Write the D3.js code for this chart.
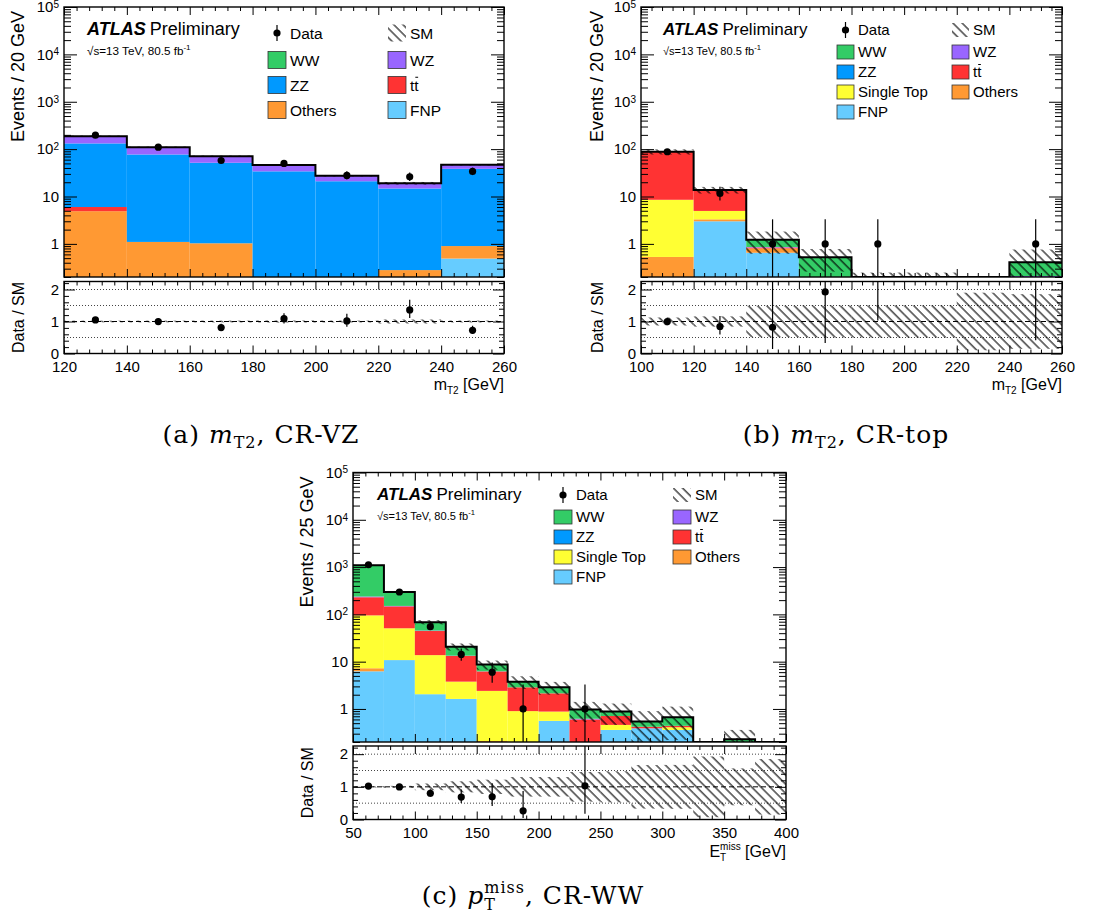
<!DOCTYPE html>
<html><head><meta charset="utf-8">
<script src="https://cdn.jsdelivr.net/npm/d3@7"></script>
<style>
body{margin:0;background:#fff}
svg text{font-family:"Liberation Sans",Arial,sans-serif;white-space:pre}
</style></head><body>
<svg id="chart" width="1116" height="923"></svg>
<script>
// stack order, bottom -> top
var stackNames = ['FNP','Others','Single Top','ttbar','ZZ','WZ','WW'];
var stackColors = ['#66ccff','#ff9933','#ffff33','#ff3333','#0099ff','#9966ff','#33cc66'];

// (a) m_T2, CR-VZ
var aEdges = [120,140,160,180,200,220,240,260];
var aFNP = [0,0,0,0,0,0,0.49];
var aOthers = [4.9,1.1,1.03,0,0,0.28,0.41];
var aSingleTop = [0,0,0,0,0,0,0];
var aTtbar = [1.1,0,0,0,0,0,0];
var aZZ = [126,76,50.5,34,21,14.5,37.5];
var aWZ = [56,33,19.5,12,6.3,4.3,8.3];
var aWW = [0,0,0,0,0,0,0];
var aData = [197,110,57.6,50,27.8,26,33.8];
var aDataErrLo = [13.5,10,7.2,6.8,5,4.8,5.5];
var aDataErrHi = [14.5,11,8.3,7.8,6.2,6.1,6.8];
var aSMErr = [5,3,2,1.5,0.8,1.2,1.4];
var aLegend = [['Data','SM'],['WW','WZ'],['ZZ','ttbar'],['Others','FNP']];

// (b) m_T2, CR-top
var bEdges = [100,120,140,160,180,200,220,240,260];
var bFNP = [0,3.0,0.65,0,0,0,0,0];
var bOthers = [0.53,0.3,0.15,0,0,0,0,0];
var bSingleTop = [8.0,1.66,0,0,0,0,0,0];
var bTtbar = [79.5,8.8,0.04,0,0,0,0,0];
var bZZ = [0,0,0,0,0,0,0,0];
var bWZ = [0,0,0.02,0,0,0,0,0.21];
var bWW = [0,0,0.36,0.52,0.165,0.165,0.1,0.2];
var bData = [88,11.6,1,1,1,0,0,1];
var bDataErrLo = [9.4,3.4,0.83,0.83,0.83,0,0,0.83];
var bDataErrHi = [10.4,4.5,2.3,2.3,2.3,0,0,2.3];
var bSMErr = [11,2.2,0.6,0.26,0.083,0.083,0.09,0.35];
var bLegend = [['Data','SM'],['WW','WZ'],['ZZ','ttbar'],['Single Top','Others'],['FNP']];

// (c) p_T^miss, CR-WW
var cEdges = [50,75,100,125,150,175,200,225,250,275,300,325,350,375,400];
var cFNP = [6.25,10.8,2.05,1.63,0,0,0.56,0,0.36,0.39,0.36,0,0,0];
var cOthers = [1.0,0,0,0,0.21,0,0,0,0,0,0,0,0,0];
var cSingleTop = [88,40,11.7,2.15,2.2,0.9,0.32,0,0.1,0,0.05,0,0,0];
var cTtbar = [135,97,30.7,9.4,3.8,1.97,1.26,0.6,0.25,0.03,0.03,0,0,0];
var cZZ = [0,0,0,0,0,0,0,0,0,0,0,0,0,0];
var cWZ = [8,3,1,0.2,0.05,0,0,0.02,0,0,0,0,0,0];
var cWW = [856,147,23,7.3,2.4,0.91,0.73,0.35,0.17,0.12,0.23,0.1,0.23,0.08];
var cData = [1120,297,55,14.2,6,1,0,1,0,0,0,0,0,0];
var cDataErrLo = [33,17,7.4,3.7,2.4,0.83,0,0.83,0,0,0,0,0,0];
var cDataErrHi = [34,18,8.4,4.8,3.6,2.3,0,2.3,0,0,0,0,0,0];
var cSMErr = [22,9,7,3.5,1.9,1.13,0.86,0.44,0.42,0.36,0.45,0.093,0.13,0.068];
var cLegend = bLegend;

var svg = d3.select('#chart');
var defs = svg.append('defs');
defs.append('pattern').attr('id','hatch').attr('patternUnits','userSpaceOnUse')
  .attr('width',6.5).attr('height',6.5).attr('patternTransform','rotate(-45)')
  .append('line').attr('x1',1).attr('y1',0).attr('x2',1).attr('y2',6.5)
  .attr('stroke','#000').attr('stroke-width',1.1);

// draws text pieces side by side (sub/superscripts, stacked indices, overbars)
function rich(parent, x, y, pieces, anchor, base){
  var g = parent.append('g');
  var cx = 0;
  function put(p){
    return g.append('text').attr('x',cx).attr('y',p.dy||0)
      .attr('font-size',p.size||base.size)
      .style('font-family',base.family||null)
      .style('letter-spacing',base.ls||null)
      .attr('font-style',p.italic?'italic':null)
      .text(p.t);
  }
  pieces.forEach(function(p){
    if (p.stack){
      var w = 0;
      p.stack.forEach(function(s){
        w = Math.max(w, put(s).node().getComputedTextLength());
      });
      cx += w;
    } else {
      var t = put(p);
      var w = t.node().getComputedTextLength();
      if (p.over){
        var s = p.size||base.size;
        g.append('line').attr('x1',cx+1).attr('x2',cx+w-0.5)
          .attr('y1',-s*0.86).attr('y2',-s*0.86).attr('stroke','#000').attr('stroke-width',1);
      }
      cx += w;
    }
  });
  var off = anchor==='end' ? -cx : (anchor==='middle' ? -cx/2 : 0);
  g.attr('transform','translate('+(x+off)+','+y+')');
  return g;
}

function legendLabel(name){
  if (name==='ttbar') return [{t:'t'},{t:'t',over:true}];
  return [{t:name}];
}

function drawPanel(p){
  var g = svg.append('g');
  var nb = p.edges.length-1;
  var x = d3.scaleLinear().domain([p.edges[0],p.edges[nb]]).range([p.left,p.right]);
  var y = d3.scaleLog().domain([0.2,1e5]).range([p.mainBottom,p.top]).clamp(true);
  var yr = d3.scaleLinear().domain([0,2.25]).range([p.ratioBottom,p.ratioTop]);
  var yc = function(v){ return y(Math.max(v,1e-3)); };

  defs.append('clipPath').attr('id','clipM'+p.id).append('rect')
    .attr('x',p.left).attr('y',p.top).attr('width',p.right-p.left).attr('height',p.mainBottom-p.top);
  defs.append('clipPath').attr('id','clipR'+p.id).append('rect')
    .attr('x',p.left).attr('y',p.ratioTop).attr('width',p.right-p.left).attr('height',p.ratioBottom-p.ratioTop);

  var bins = d3.range(nb);
  var total = bins.map(function(i){ return d3.sum(stackNames, function(n){ return p.comps[n][i]; }); });

  // stacked backgrounds
  var main = g.append('g').attr('clip-path','url(#clipM'+p.id+')');
  var base = bins.map(function(){ return 0; });
  stackNames.forEach(function(n,k){
    var segs = bins.filter(function(i){ return p.comps[n][i]>0; }).map(function(i){
      var s = {i:i, lo:base[i], hi:base[i]+p.comps[n][i]};
      base[i] = s.hi;
      return s;
    });
    main.selectAll(null).data(segs).enter().append('rect')
      .attr('x',function(d){ return x(p.edges[d.i]); })
      .attr('width',function(d){ return x(p.edges[d.i+1])-x(p.edges[d.i]); })
      .attr('y',function(d){ return yc(d.hi); })
      .attr('height',function(d){ return Math.max(0,yc(d.lo)-yc(d.hi)); })
      .attr('fill',stackColors[k]);
  });

  // SM uncertainty
  main.selectAll(null).data(bins).enter().append('rect')
    .attr('x',function(i){ return x(p.edges[i]); })
    .attr('width',function(i){ return x(p.edges[i+1])-x(p.edges[i]); })
    .attr('y',function(i){ return yc(total[i]+p.smErr[i]); })
    .attr('height',function(i){ return Math.max(0,yc(total[i]-p.smErr[i])-yc(total[i]+p.smErr[i])); })
    .attr('fill','url(#hatch)');

  // SM outline
  var pts = [];
  bins.forEach(function(i){ pts.push([x(p.edges[i]),yc(total[i])]); pts.push([x(p.edges[i+1]),yc(total[i])]); });
  main.append('path').attr('d',d3.line()(pts)).attr('fill','none').attr('stroke','#000').attr('stroke-width',2);

  // data
  var dBins = bins.filter(function(i){ return p.data[i]>0; });
  var xc = function(i){ return x((p.edges[i]+p.edges[i+1])/2); };
  main.selectAll(null).data(dBins).enter().append('line')
    .attr('x1',xc).attr('x2',xc)
    .attr('y1',function(i){ return yc(p.data[i]-p.errLo[i]); })
    .attr('y2',function(i){ return yc(p.data[i]+p.errHi[i]); })
    .attr('stroke','#000').attr('stroke-width',1.2);
  main.selectAll(null).data(dBins).enter().append('circle')
    .attr('cx',xc).attr('cy',function(i){ return yc(p.data[i]); }).attr('r',3.6).attr('fill','#000');

  // ratio panel
  var rat = g.append('g').attr('clip-path','url(#clipR'+p.id+')');
  [0.5,1.5,2].forEach(function(v){
    rat.append('line').attr('x1',p.left).attr('x2',p.right).attr('y1',yr(v)).attr('y2',yr(v))
      .attr('stroke','#444').attr('stroke-width',1).attr('stroke-dasharray','1,2');
  });
  var rBins = bins.filter(function(i){ return total[i]>0; });
  rat.selectAll(null).data(rBins).enter().append('rect')
    .attr('x',function(i){ return x(p.edges[i]); })
    .attr('width',function(i){ return x(p.edges[i+1])-x(p.edges[i]); })
    .attr('y',function(i){ return yr(1+p.smErr[i]/total[i]); })
    .attr('height',function(i){ return yr(1-p.smErr[i]/total[i])-yr(1+p.smErr[i]/total[i]); })
    .attr('fill','url(#hatch)');
  rat.append('line').attr('x1',p.left).attr('x2',p.right).attr('y1',yr(1)).attr('y2',yr(1))
    .attr('stroke','#000').attr('stroke-width',1).attr('stroke-dasharray','5,3');
  var drBins = dBins.filter(function(i){ return total[i]>0; });
  rat.selectAll(null).data(drBins).enter().append('line')
    .attr('x1',xc).attr('x2',xc)
    .attr('y1',function(i){ return yr((p.data[i]-p.errLo[i])/total[i]); })
    .attr('y2',function(i){ return yr((p.data[i]+p.errHi[i])/total[i]); })
    .attr('stroke','#000').attr('stroke-width',1.2);
  rat.selectAll(null).data(drBins.filter(function(i){ return p.data[i]/total[i]<2.25; })).enter().append('circle')
    .attr('cx',xc).attr('cy',function(i){ return yr(p.data[i]/total[i]); }).attr('r',3.6).attr('fill','#000');

  // frames
  [[p.top,p.mainBottom],[p.ratioTop,p.ratioBottom]].forEach(function(f){
    g.append('rect').attr('x',p.left).attr('y',f[0]).attr('width',p.right-p.left).attr('height',f[1]-f[0])
      .attr('fill','none').attr('stroke','#000').attr('stroke-width',1.4);
  });

  // ticks
  var x0 = p.edges[0], x1 = p.edges[nb];
  var xMaj = d3.range(x0, x1+0.001, p.xMajor);
  var xMin = d3.range(x0, x1+0.001, p.xMinor).filter(function(v){ return xMaj.indexOf(v)<0; });
  var logMaj = [1,10,100,1e3,1e4,1e5];
  var logMin = [];
  [0.1,1,10,100,1e3,1e4].forEach(function(d){ for (var m=2;m<10;m++){ var v=m*d; if (v>=0.2 && v<1e5) logMin.push(v); } });
  var rMaj = [0,1,2];
  var rMin = [0.2,0.4,0.6,0.8,1.2,1.4,1.6,1.8,2.2];

  function tk(axis, vals, size, tr){
    g.append('g').attr('transform',tr).call(axis.tickValues(vals).tickSize(size).tickFormat(''))
      .call(function(s){ s.select('.domain').remove(); s.selectAll('line').attr('stroke','#000'); });
  }
  [[p.top,p.mainBottom],[p.ratioTop,p.ratioBottom]].forEach(function(f){
    tk(d3.axisTop(x), xMaj, -8, 'translate(0,'+f[0]+')');
    tk(d3.axisTop(x), xMin, -4, 'translate(0,'+f[0]+')');
    tk(d3.axisBottom(x), xMaj, -8, 'translate(0,'+f[1]+')');
    tk(d3.axisBottom(x), xMin, -4, 'translate(0,'+f[1]+')');
  });
  [[p.left,d3.axisLeft],[p.right,d3.axisRight]].forEach(function(s){
    tk(s[1](y), logMaj, -13, 'translate('+s[0]+',0)');
    tk(s[1](y), logMin, -7, 'translate('+s[0]+',0)');
    tk(s[1](yr), rMaj, -11, 'translate('+s[0]+',0)');
    tk(s[1](yr), rMin, -5, 'translate('+s[0]+',0)');
  });

  // tick labels
  var yl = g.append('g').attr('transform','translate('+p.left+',0)')
    .call(d3.axisLeft(y).tickValues(logMaj).tickSize(0).tickPadding(5).tickFormat(function(d){ return d<100 ? String(d) : ''; }));
  yl.select('.domain').remove();
  yl.selectAll('text').attr('font-size',15).attr('fill','#000').style('font-family','Liberation Sans')
    .each(function(d){
      if (d<100){ return; }
      var t = d3.select(this);
      t.append('tspan').text('10');
      t.append('tspan').attr('dy','-0.45em').attr('font-size',10).text(Math.round(Math.log10(d)));
    });
  var rl = g.append('g').attr('transform','translate('+p.left+',0)')
    .call(d3.axisLeft(yr).tickValues(rMaj).tickSize(0).tickPadding(5).tickFormat(d3.format('d')));
  rl.select('.domain').remove();
  rl.selectAll('text').attr('font-size',15).attr('fill','#000').style('font-family','Liberation Sans');
  var xl = g.append('g').attr('transform','translate(0,'+p.ratioBottom+')')
    .call(d3.axisBottom(x).tickValues(xMaj).tickSize(0).tickPadding(8).tickFormat(d3.format('d')));
  xl.select('.domain').remove();
  xl.selectAll('text').attr('font-size',15).attr('fill','#000').style('font-family','Liberation Sans');

  // axis titles
  g.append('text').attr('transform','translate('+p.yTitleX+','+(p.top+4)+') rotate(-90)')
    .attr('text-anchor','end').attr('font-size',18).text(p.yTitle);
  g.append('text').attr('transform','translate('+p.yTitleX+','+((p.ratioTop+p.ratioBottom)/2)+') rotate(-90)')
    .attr('text-anchor','middle').attr('font-size',16).text('Data / SM');
  rich(g, p.right, p.ratioBottom+p.xTitleDy, p.xTitle, 'end', {size:16});

  // ATLAS label
  var at = g.append('text').attr('x',p.atlasX).attr('y',p.atlasY).attr('font-size',p.atlasFs);
  at.append('tspan').attr('font-weight','bold').attr('font-style','italic').text('ATLAS');
  at.append('tspan').attr('dx',4).text('Preliminary');
  var lu = g.append('text').attr('x',p.atlasX).attr('y',p.atlasY+20).attr('font-size',p.atlasFs*0.65);
  lu.append('tspan').text('\u221As=13 TeV, 80.5 fb');
  lu.append('tspan').attr('dy',-5).attr('font-size',p.atlasFs*0.45).text('-1');

  // legend
  var L = p.leg;
  p.legend.forEach(function(row,r){
    row.forEach(function(name,c){
      var bx = c===0 ? L.x1 : L.x2;
      var cy = L.y0 + r*L.dy + (r===0 ? -2 : 0);
      if (name==='Data'){
        g.append('line').attr('x1',bx+L.bw/2).attr('x2',bx+L.bw/2).attr('y1',cy-8).attr('y2',cy+8).attr('stroke','#000').attr('stroke-width',1.2);
        g.append('circle').attr('cx',bx+L.bw/2).attr('cy',cy).attr('r',3.6).attr('fill','#000');
      } else if (name==='SM'){
        g.append('rect').attr('x',bx).attr('y',cy-L.bh/2).attr('width',L.bw).attr('height',L.bh).attr('fill','url(#hatch)');
      } else {
        g.append('rect').attr('x',bx).attr('y',cy-L.bh/2).attr('width',L.bw).attr('height',L.bh)
          .attr('fill',stackColors[stackNames.indexOf(name)]).attr('stroke','#333').attr('stroke-width',0.8);
      }
      rich(g, bx+L.tx, cy+L.fs*0.36, legendLabel(name), 'start', {size:L.fs});
    });
  });

  // caption
  rich(g, p.capX, p.capY, p.caption, 'middle', {size:25, family:'DejaVu Serif', ls:'1px'});
}

var panels = [
  {id:'a', edges:aEdges,
   comps:{'FNP':aFNP,'Others':aOthers,'Single Top':aSingleTop,'ttbar':aTtbar,'ZZ':aZZ,'WZ':aWZ,'WW':aWW},
   data:aData, errLo:aDataErrLo, errHi:aDataErrHi, smErr:aSMErr,
   left:64, right:504, top:7, mainBottom:277, ratioTop:281.5, ratioBottom:353.5,
   xMajor:20, xMinor:4, yTitle:'Events / 20 GeV', yTitleX:24,
   atlasX:87, atlasY:35, atlasFs:18, legend:aLegend,
   leg:{x1:268, x2:388, y0:35, dy:25, bw:18, bh:17, tx:22, fs:15.5},
   xTitle:[{t:'m'},{t:'T2',size:10,dy:4},{t:' [GeV]'}], xTitleDy:36,
   caption:[{t:'(a) '},{t:'m',italic:true},{t:'T2',size:16,dy:5},{t:', CR-VZ'}], capX:261, capY:443},
  {id:'b', edges:bEdges,
   comps:{'FNP':bFNP,'Others':bOthers,'Single Top':bSingleTop,'ttbar':bTtbar,'ZZ':bZZ,'WZ':bWZ,'WW':bWW},
   data:bData, errLo:bDataErrLo, errHi:bDataErrHi, smErr:bSMErr,
   left:641, right:1062, top:7, mainBottom:277, ratioTop:281.5, ratioBottom:353.5,
   xMajor:20, xMinor:4, yTitle:'Events / 20 GeV', yTitleX:603,
   atlasX:663, atlasY:35, atlasFs:17, legend:bLegend,
   leg:{x1:837, x2:952, y0:32, dy:20, bw:17, bh:14, tx:21, fs:15},
   xTitle:[{t:'m'},{t:'T2',size:10,dy:4},{t:' [GeV]'}], xTitleDy:36,
   caption:[{t:'(b) '},{t:'m',italic:true},{t:'T2',size:16,dy:5},{t:', CR-top'}], capX:846, capY:443},
  {id:'c', edges:cEdges,
   comps:{'FNP':cFNP,'Others':cOthers,'Single Top':cSingleTop,'ttbar':cTtbar,'ZZ':cZZ,'WZ':cWZ,'WW':cWW},
   data:cData, errLo:cDataErrLo, errHi:cDataErrHi, smErr:cSMErr,
   left:353, right:786, top:472.5, mainBottom:742, ratioTop:746, ratioBottom:819.5,
   xMajor:50, xMinor:10, yTitle:'Events / 25 GeV', yTitleX:313,
   atlasX:377, atlasY:500, atlasFs:17, legend:cLegend,
   leg:{x1:554, x2:673, y0:497, dy:20, bw:18, bh:14, tx:22, fs:15},
   xTitle:[{t:'E'},{stack:[{t:'miss',size:10,dy:-7},{t:'T',size:10,dy:4}]},{t:' [GeV]'}], xTitleDy:37,
   caption:[{t:'(c) '},{t:'p',italic:true},{stack:[{t:'miss',size:16,dy:-11},{t:'T',size:16,dy:6}]},{t:', CR-WW'}], capX:533, capY:904}
];

panels.forEach(drawPanel);
</script>
</body></html>
